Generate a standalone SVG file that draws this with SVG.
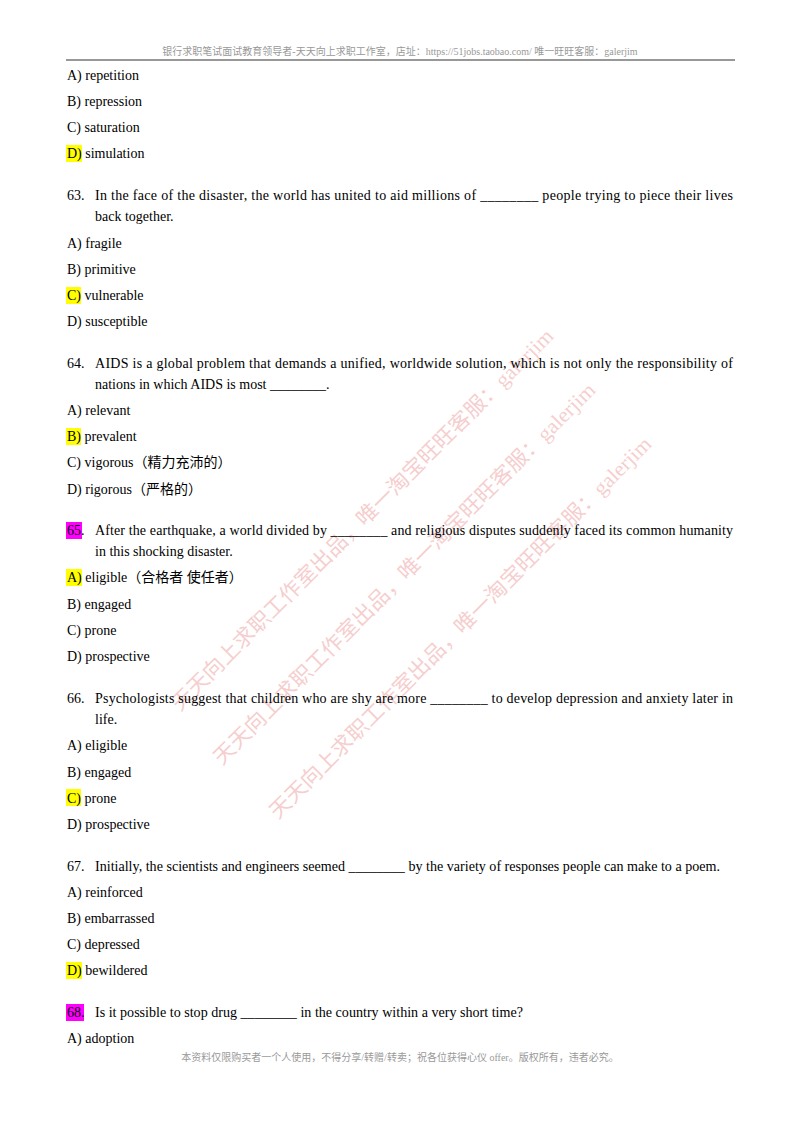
<svg xmlns="http://www.w3.org/2000/svg" width="800" height="1131" viewBox="0 0 800 1131">
<style>
text{font-family:"Liberation Serif","Noto Sans CJK SC",serif;font-size:14px;fill:#000}
.hd{font-size:10px;fill:#999}
.wm{font-size:21px;fill:#f2b8b8;fill-opacity:0.7}
.y{fill:#ffff00}.m{fill:#ff00ff}
</style>
<rect width="800" height="1131" fill="#fff"/>
<text class="hd" x="400" y="55" text-anchor="middle">银行求职笔试面试教育领导者-天天向上求职工作室，店址：https://51jobs.taobao.com/  唯一旺旺客服：galerjim</text>
<line x1="66" y1="60" x2="735" y2="60" stroke="#333" stroke-width="1.2"/>
<g>
<text class="wm" transform="translate(180,712) rotate(-45)" textLength="530" lengthAdjust="spacingAndGlyphs">天天向上求职工作室出品，唯一淘宝旺旺客服：galerjim</text>
<text class="wm" transform="translate(222,766) rotate(-45)" textLength="530" lengthAdjust="spacingAndGlyphs">天天向上求职工作室出品，唯一淘宝旺旺客服：galerjim</text>
<text class="wm" transform="translate(278,820) rotate(-45)" textLength="530" lengthAdjust="spacingAndGlyphs">天天向上求职工作室出品，唯一淘宝旺旺客服：galerjim</text>
</g>
<rect class="y" x="66" y="145" width="16" height="17"/>
<rect class="y" x="66" y="287" width="15" height="17"/>
<rect class="y" x="66" y="428" width="15" height="17"/>
<rect class="m" x="66" y="522" width="16" height="17"/>
<rect class="y" x="66" y="569" width="16" height="17"/>
<rect class="y" x="66" y="789" width="15" height="17"/>
<rect class="y" x="66" y="962" width="16" height="17"/>
<rect class="m" x="66" y="1004" width="18" height="17"/>
<text x="67" y="80">A) repetition</text>
<text x="67" y="106">B) repression</text>
<text x="67" y="132">C) saturation</text>
<text x="67" y="158">D) simulation</text>
<text x="67" y="200">63.</text>
<text x="95" y="200" textLength="638" lengthAdjust="spacing">In the face of the disaster, the world has united to aid millions of ________ people trying to piece their lives</text>
<text x="95" y="221">back together.</text>
<text x="67" y="248">A) fragile</text>
<text x="67" y="274">B) primitive</text>
<text x="67" y="300">C) vulnerable</text>
<text x="67" y="326">D) susceptible</text>
<text x="67" y="368">64.</text>
<text x="95" y="368" textLength="638" lengthAdjust="spacing">AIDS is a global problem that demands a unified, worldwide solution, which is not only the responsibility of</text>
<text x="95" y="389">nations in which AIDS is most ________.</text>
<text x="67" y="415">A) relevant</text>
<text x="67" y="441">B) prevalent</text>
<text x="67" y="467">C) vigorous（精力充沛的）</text>
<text x="67" y="494">D) rigorous（严格的）</text>
<text x="67" y="535">65.</text>
<text x="95" y="535" textLength="638" lengthAdjust="spacing">After the earthquake, a world divided by ________ and religious disputes suddenly faced its common humanity</text>
<text x="95" y="556">in this shocking disaster.</text>
<text x="67" y="582">A) eligible（合格者  使任者）</text>
<text x="67" y="609">B) engaged</text>
<text x="67" y="635">C) prone</text>
<text x="67" y="661">D) prospective</text>
<text x="67" y="703">66.</text>
<text x="95" y="703" textLength="638" lengthAdjust="spacing">Psychologists suggest that children who are shy are more ________ to develop depression and anxiety later in</text>
<text x="95" y="724">life.</text>
<text x="67" y="750">A) eligible</text>
<text x="67" y="777">B) engaged</text>
<text x="67" y="803">C) prone</text>
<text x="67" y="829">D) prospective</text>
<text x="67" y="871">67.</text>
<text x="95" y="871" textLength="625" lengthAdjust="spacingAndGlyphs">Initially, the scientists and engineers seemed ________ by the variety of responses people can make to a poem.</text>
<text x="67" y="897">A) reinforced</text>
<text x="67" y="923">B) embarrassed</text>
<text x="67" y="949">C) depressed</text>
<text x="67" y="975">D) bewildered</text>
<text x="67" y="1017">68.</text>
<text x="95" y="1017" textLength="428" lengthAdjust="spacingAndGlyphs">Is it possible to stop drug ________ in the country within a very short time?</text>
<text x="67" y="1043">A) adoption</text>
<text class="hd" x="400" y="1061" text-anchor="middle">本资料仅限购买者一个人使用，不得分享/转赠/转卖；祝各位获得心仪 offer。版权所有，违者必究。</text>
</svg>
